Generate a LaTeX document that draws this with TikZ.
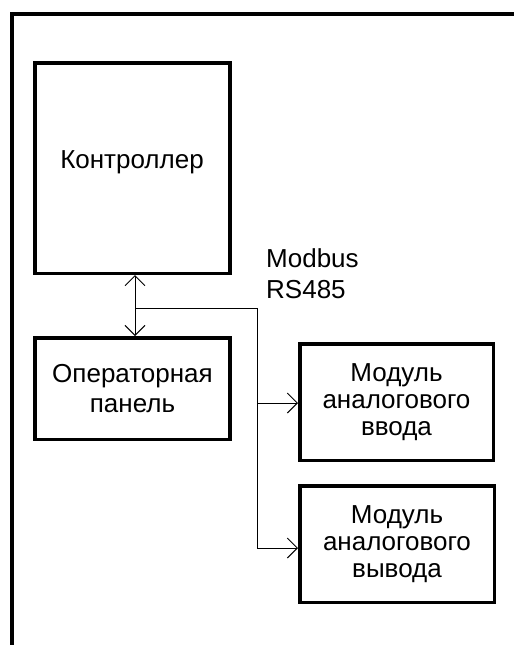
\documentclass[tikz,border=0pt]{standalone}
\usepackage{fontspec}
\setmainfont{Liberation Sans}
\usetikzlibrary{arrows.meta}

\begin{document}
\begin{tikzpicture}[x=1pt,y=-1pt,
    box/.style={draw,line width=3.5pt,inner sep=0pt,align=center},
    link/.style={line width=1pt},
    barb/.style={-{Straight Barb[length=10pt,width=20pt]}},
    twobarb/.style={{Straight Barb[length=10pt,width=20pt]}-{Straight Barb[length=10pt,width=20pt]}}]
  \useasboundingbox (0,0) rectangle (514,645);
  \draw[line width=4pt] (12,645) -- (12,14) -- (514,14);

  \node[box,minimum width=195,minimum height=210.5] (ctrl) at (132.5,168) {};
  \node[anchor=base,font=\fontsize{26}{28}\selectfont] (ctrltxt) at (132,168) {Контроллер};
  \node[box,minimum width=195,minimum height=101.5,font=\fontsize{26}{30}\selectfont]
    (panel) at (132.5,388.5) {Операторная\\панель};
  \node[box,minimum width=193.5,minimum height=116.5,font=\fontsize{26}{27}\selectfont]
    (ain) at (396.5,402) {Модуль\\аналогового\\ввода};
  \node[box,minimum width=194.5,minimum height=116.5,font=\fontsize{26}{27}\selectfont]
    (aout) at (397,544) {Модуль\\аналогового\\вывода};

  \node[anchor=north west,inner sep=0pt,align=left,font=\fontsize{26}{31}\selectfont]
    (bus) at (266,248.5) {Modbus\\RS485};

  % bus lines
  \coordinate (jn) at (135,308);
  \coordinate (trunk) at (257,308);
  \draw[link,twobarb] ([xshift=2.5pt]ctrl.south) -- ([xshift=2.5pt]panel.north);
  \draw[link] (jn) -- (trunk);
  \draw[link,barb] (trunk) |- ([yshift=-1pt]ain.west);
  \draw[link,barb] (trunk) |- ([yshift=-4pt]aout.west);
\end{tikzpicture}
\end{document}
